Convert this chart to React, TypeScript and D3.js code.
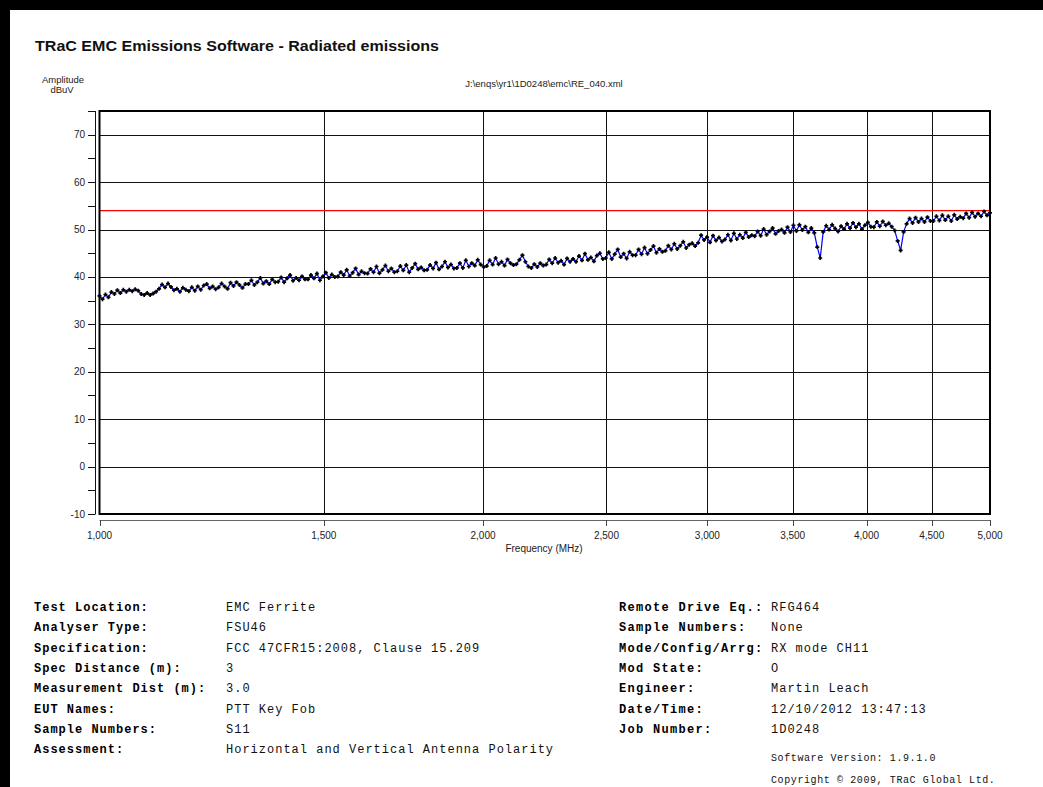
import React from "react";
import * as d3 from "d3";

const TITLE = "TRaC EMC Emissions Software - Radiated emissions";
const FILE_PATH = "J:\\enqs\\yr1\\1D0248\\emc\\RE_040.xml";
const Y_LABEL = ["Amplitude", "dBuV"];
const X_LABEL = "Frequency (MHz)";

const Y_DOMAIN: [number, number] = [-10, 75];
const X_DOMAIN: [number, number] = [1000, 5000];
const yTicks = [-10, 0, 10, 20, 30, 40, 50, 60, 70];
const yMinorTicks = [-5, 5, 15, 25, 35, 45, 55, 65, 75];
const xTicks = [1000, 1500, 2000, 2500, 3000, 3500, 4000, 4500, 5000];
const LIMIT = 54;

// measured amplitude (dBuV) at each sweep point, 1000 -> 5000 MHz
const amplitudes = [
  36.0, 35.3, 36.3, 35.7, 36.8, 36.4, 37.2, 36.6, 37.3, 36.9,
  37.3, 37.0, 37.4, 37.1, 36.4, 36.2, 36.6, 36.2, 36.5, 36.9,
  37.5, 38.4, 37.8, 38.6, 37.9, 37.2, 37.5, 36.9, 37.7, 37.3,
  37.0, 37.8, 37.1, 38.0, 37.3, 38.2, 38.5, 37.6, 38.0, 37.4,
  37.8, 38.6, 38.0, 37.5, 38.8, 38.1, 38.9, 38.3, 37.7, 38.5,
  38.5, 39.3, 38.3, 38.9, 39.8, 38.6, 39.1, 38.5, 39.5, 38.9,
  39.0, 39.9, 38.9, 39.7, 40.4, 39.2, 39.8, 39.3, 40.1, 39.5,
  39.5, 40.4, 39.7, 40.7, 39.3, 40.1, 40.9, 39.8, 40.5, 40.0,
  40.1, 41.0, 40.4, 41.5, 40.2, 40.9, 41.8, 40.5, 41.2, 40.8,
  40.7, 41.7, 41.0, 42.2, 40.8, 41.5, 42.4, 41.2, 41.8, 41.0,
  41.2, 42.3, 41.4, 42.5, 41.0, 41.9, 42.8, 41.6, 42.0, 41.4,
  41.5, 42.5, 41.8, 43.0, 41.6, 42.2, 43.2, 42.0, 42.6, 41.8,
  41.9, 42.9, 41.9, 43.5, 42.2, 42.9, 42.4, 43.6, 42.6, 42.1,
  42.3, 43.5, 42.6, 44.0, 42.7, 43.2, 42.4, 43.7, 42.9, 42.5,
  42.7, 43.6, 44.6, 43.2, 42.2, 41.9, 42.7, 42.1, 42.9, 42.4,
  42.6, 43.7, 42.9, 44.0, 43.0, 43.4, 42.6, 43.9, 43.2, 43.8,
  43.2, 44.4, 43.5, 44.9, 43.6, 44.1, 43.3, 44.5, 45.0, 43.8,
  44.0, 45.2, 43.8, 44.8, 45.8, 44.2, 44.9, 43.9, 45.3, 44.6,
  44.6, 45.8, 44.8, 46.2, 44.9, 45.7, 46.5, 45.1, 45.9, 45.3,
  45.5, 46.6, 45.8, 47.0, 45.9, 46.6, 47.4, 46.1, 46.8, 47.1,
  46.5, 47.2, 48.8, 47.8, 48.4, 47.3, 48.7, 47.7, 48.3, 47.5,
  47.9, 48.9, 47.7, 49.2, 48.0, 48.9, 48.2, 49.4, 48.4, 48.8,
  48.6, 49.6, 48.7, 50.1, 48.9, 49.6, 50.3, 49.1, 49.7, 50.0,
  49.3, 50.5, 49.5, 50.9, 49.7, 51.0, 49.9, 50.6, 49.4, 50.3,
  49.3, 46.3, 44.0, 49.5, 50.8, 50.0, 51.0, 50.2, 49.6, 50.7,
  50.1, 51.2, 50.3, 51.4, 50.5, 51.2, 50.1, 50.9, 51.5, 50.6,
  50.5, 51.6, 50.7, 51.7, 50.9, 51.3, 50.6, 49.8, 47.6, 45.6,
  49.5, 51.2, 52.3, 51.4, 52.5, 51.6, 52.3, 51.6, 52.6, 51.8,
  51.8, 52.8, 51.9, 53.0, 52.0, 52.8, 51.8, 53.1, 52.2, 52.7,
  52.4, 53.4, 52.5, 53.6, 52.7, 53.4, 52.8, 53.8, 53.0, 53.5,
];

const leftLabels = [
  "Test Location:",
  "Analyser Type:",
  "Specification:",
  "Spec Distance (m):",
  "Measurement Dist (m):",
  "EUT Names:",
  "Sample Numbers:",
  "Assessment:",
];
const leftValues = [
  "EMC Ferrite",
  "FSU46",
  "FCC 47CFR15:2008, Clause 15.209",
  "3",
  "3.0",
  "PTT Key Fob",
  "S11",
  "Horizontal and Vertical Antenna Polarity",
];
const rightLabels = [
  "Remote Drive Eq.:",
  "Sample Numbers:",
  "Mode/Config/Arrg:",
  "Mod State:",
  "Engineer:",
  "Date/Time:",
  "Job Number:",
];
const rightValues = [
  "RFG464",
  "None",
  "RX mode CH11",
  "O",
  "Martin Leach",
  "12/10/2012 13:47:13",
  "1D0248",
];
const footer = ["Software Version: 1.9.1.0", "Copyright \u00a9 2009, TRaC Global Ltd."];

const W = 1043;
const H = 787;
const PL = 99.5;
const PR = 990;
const PT = 111;
const PB = 514;

export default function App() {
  const x = d3.scaleLog().domain(X_DOMAIN).range([PL, PR]);
  const y = d3.scaleLinear().domain(Y_DOMAIN).range([PB, PT]);
  const n = amplitudes.length;
  const ratio = X_DOMAIN[1] / X_DOMAIN[0];
  const pts: [number, number][] = amplitudes.map((a, i) => [
    X_DOMAIN[0] * Math.pow(ratio, i / (n - 1)),
    a,
  ]);
  const line = d3
    .line<[number, number]>()
    .x((d) => x(d[0]))
    .y((d) => y(d[1]));
  const fmt = d3.format(",");
  const sans = "Liberation Sans, Arial, sans-serif";
  const mono = "Liberation Mono, Courier New, monospace";
  const rowY = (i: number) => 611 + i * 20.3;

  return (
    <svg
      width={W}
      height={H}
      style={{ position: "absolute", left: 0, top: 0, background: "#fff" }}
    >
      <rect x={0} y={0} width={W} height={H} fill="#fff" />
      <rect x={0} y={0} width={W} height={10} fill="#000" />
      <rect x={0} y={0} width={10} height={H} fill="#000" />

      <text
        x={35}
        y={51}
        fontFamily={sans}
        fontSize={15.5}
        fontWeight="bold"
        fill="#111"
        textLength={404}
        lengthAdjust="spacingAndGlyphs"
      >
        {TITLE}
      </text>
      <text x={63} y={83} fontFamily={sans} fontSize={9.5} textAnchor="middle" fill="#222">
        {Y_LABEL[0]}
      </text>
      <text x={62} y={93} fontFamily={sans} fontSize={9.5} textAnchor="middle" fill="#222">
        {Y_LABEL[1]}
      </text>
      <text x={544} y={87} fontFamily={sans} fontSize={9.5} textAnchor="middle" fill="#222">
        {FILE_PATH}
      </text>

      {/* grid */}
      {yTicks.map((t) => (
        <line
          key={"gy" + t}
          x1={PL}
          x2={PR}
          y1={Math.round(y(t)) + 0.5}
          y2={Math.round(y(t)) + 0.5}
          stroke="#111"
          strokeWidth={1}
        />
      ))}
      {xTicks.slice(1, -1).map((t) => (
        <line
          key={"gx" + t}
          x1={Math.round(x(t)) + 0.5}
          x2={Math.round(x(t)) + 0.5}
          y1={PT}
          y2={PB}
          stroke="#111"
          strokeWidth={1}
        />
      ))}

      {/* limit */}
      <line x1={PL} x2={PR} y1={y(LIMIT)} y2={y(LIMIT)} stroke="#ff0000" strokeWidth={1.2} />

      {/* trace */}
      <path d={line(pts) || ""} fill="none" stroke="#0000ff" strokeWidth={1.2} />
      {pts.map((d, i) => (
        <path
          key={"m" + i}
          d={`M${x(d[0]) - 2},${y(d[1])}h4M${x(d[0])},${y(d[1]) - 2}v4`}
          stroke="#000"
          strokeWidth={1.7}
        />
      ))}

      {/* plot frame */}
      <rect x={PL} y={PT} width={PR - PL} height={PB - PT} fill="none" stroke="#000" strokeWidth={2} />

      {/* y axis */}
      <line x1={95.5} x2={95.5} y1={PT} y2={PB} stroke="#111" strokeWidth={1} />
      {yTicks.concat(yMinorTicks).map((t) => (
        <line
          key={"ty" + t}
          x1={88}
          x2={95.5}
          y1={Math.round(y(t)) + 0.5}
          y2={Math.round(y(t)) + 0.5}
          stroke="#111"
          strokeWidth={1}
        />
      ))}
      {yTicks.map((t) => (
        <text
          key={"ly" + t}
          x={85}
          y={y(t) + 3.5}
          textAnchor="end"
          fontFamily={sans}
          fontSize={10}
          fill="#222"
        >
          {t}
        </text>
      ))}

      {/* x axis */}
      <line x1={PL} x2={PR} y1={520.5} y2={520.5} stroke="#666" strokeWidth={1} />
      {xTicks.map((t) => (
        <line
          key={"tx" + t}
          x1={Math.round(x(t)) + 0.5}
          x2={Math.round(x(t)) + 0.5}
          y1={520}
          y2={526}
          stroke="#444"
          strokeWidth={1}
        />
      ))}
      {xTicks.map((t) => (
        <text
          key={"lx" + t}
          x={x(t)}
          y={539}
          textAnchor="middle"
          fontFamily={sans}
          fontSize={10}
          fill="#222"
        >
          {fmt(t)}
        </text>
      ))}
      <text x={544} y={551.5} textAnchor="middle" fontFamily={sans} fontSize={10} fill="#222">
        {X_LABEL}
      </text>

      {/* info block */}
      {leftLabels.map((s, i) => (
        <text
          key={"ll" + i}
          x={34}
          y={rowY(i)}
          fontFamily={mono}
          fontSize={12}
          fontWeight="bold"
          letterSpacing={1}
          fill="#000"
        >
          {s}
        </text>
      ))}
      {leftValues.map((s, i) => (
        <text
          key={"lv" + i}
          x={226}
          y={rowY(i)}
          fontFamily={mono}
          fontSize={12}
          letterSpacing={1}
          fill="#111"
        >
          {s}
        </text>
      ))}
      {rightLabels.map((s, i) => (
        <text
          key={"rl" + i}
          x={619}
          y={rowY(i)}
          fontFamily={mono}
          fontSize={12}
          fontWeight="bold"
          letterSpacing={1.3}
          fill="#000"
        >
          {s}
        </text>
      ))}
      {rightValues.map((s, i) => (
        <text
          key={"rv" + i}
          x={771}
          y={rowY(i)}
          fontFamily={mono}
          fontSize={12}
          letterSpacing={1}
          fill="#111"
        >
          {s}
        </text>
      ))}
      {footer.map((s, i) => (
        <text
          key={"f" + i}
          x={771}
          y={761 + i * 21.5}
          fontFamily={mono}
          fontSize={10}
          letterSpacing={0.6}
          fill="#111"
        >
          {s}
        </text>
      ))}
    </svg>
  );
}
